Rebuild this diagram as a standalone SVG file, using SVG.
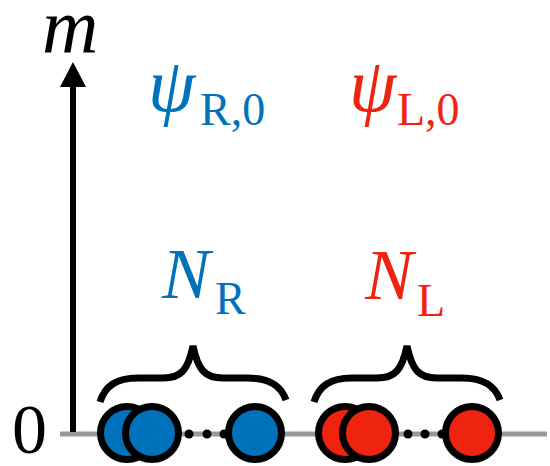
<svg xmlns="http://www.w3.org/2000/svg" width="550" height="466" viewBox="0 0 550 466">
<style>
.it{font-family:"Liberation Serif","Times New Roman",serif;font-style:italic}
.rm{font-family:"Liberation Serif","Times New Roman",serif;font-style:normal}
.blue{fill:#0072BB}
.red{fill:#EE2310}
.ball{stroke:#000;stroke-width:7}
.brace{fill:none;stroke:#000;stroke-width:7;stroke-linejoin:miter}
</style>
<g id="axes">
<line x1="60" y1="434" x2="547" y2="434" stroke="#999" stroke-width="5"/>
<line x1="73" y1="432" x2="73" y2="86" stroke="#000" stroke-width="6"/>
<path d="M60,87 L73,62 L86,87 Z" fill="#000"/>
<text class="it" x="42" y="53" font-size="78">m</text>
<text class="rm" x="12" y="453" font-size="70">0</text>
</g>
<g id="labels">
<text class="it blue" x="148" y="111" font-size="76">ψ<tspan class="rm" font-size="46" x="200" y="125">R,0</tspan></text>
<text class="it red" x="349" y="111" font-size="76">ψ<tspan class="rm" font-size="46" x="397" y="125">L,0</tspan></text>
<text class="it blue" x="162" y="298" font-size="72">N<tspan class="rm" font-size="46" x="215" y="314">R</tspan></text>
<text class="it red" x="365" y="299" font-size="72">N<tspan class="rm" font-size="46" x="417" y="316">L</tspan></text>
</g>
<g id="braces">
<path class="brace" d="M100,402 C105,386 116,378 138,378 L163,378 C181,378 188,370 193,346 C198,370 205,378 223,378 L248,378 C270,378 281,386 286,400"/>
<path class="brace" d="M314,402 C319,386 330,378 352,378 L377,378 C395,378 402,370 407,346 C412,370 419,378 437,378 L462,378 C484,378 495,386 500,400"/>
</g>
<g id="dots">
<circle cx="189" cy="434" r="4.5"/>
<circle cx="207" cy="434" r="4.5"/>
<circle cx="224" cy="434" r="4.5"/>
<circle cx="408" cy="434" r="4.5"/>
<circle cx="425" cy="434" r="4.5"/>
<circle cx="442" cy="434" r="4.5"/>
</g>
<g id="balls-R">
<circle class="ball blue" cx="127" cy="433" r="26.5"/>
<circle class="ball blue" cx="152" cy="433" r="26.5"/>
<circle class="ball blue" cx="255" cy="433" r="26.5"/>
</g>
<g id="balls-L">
<circle class="ball red" cx="345" cy="433" r="26.5"/>
<circle class="ball red" cx="369" cy="433" r="26.5"/>
<circle class="ball red" cx="472" cy="433" r="26.5"/>
</g>
</svg>
